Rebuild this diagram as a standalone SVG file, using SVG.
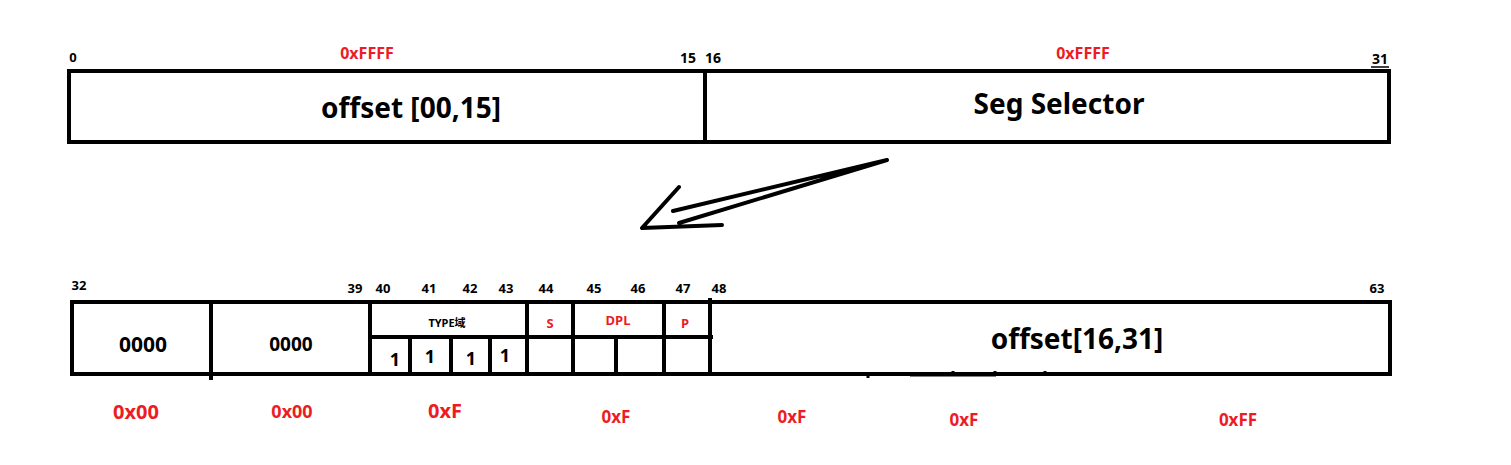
<svg xmlns="http://www.w3.org/2000/svg" width="1511" height="465" viewBox="0 0 1511 465">
<style>
text{font-family:"Noto Sans","Noto Sans CJK SC","Liberation Sans",sans-serif;font-weight:bold;text-anchor:middle;fill:#000}
.red{fill:#ed1c24}
.box{fill:none;stroke:#000;stroke-width:4}
.ln{stroke:#000;stroke-width:4;fill:none}
.num{font-size:13px}
.big{font-size:28px}
</style>
<rect width="1511" height="465" fill="#fff"/>
<g id="top-register">
<rect class="box" x="69" y="71" width="1320" height="71"/>
<line class="ln" x1="705" y1="71" x2="705" y2="142"/>
<text class="num" x="73" y="62" font-size="12">0</text>
<text class="num" x="688" y="63" style="font-size:14px">15</text>
<text class="num" x="713" y="63" style="font-size:14px">16</text>
<text class="num" x="1380" y="64" style="font-size:14px">31</text>
<line stroke="#000" stroke-width="1.5" x1="1371" y1="67" x2="1389" y2="67"/>
<text class="red" x="367" y="59" font-size="16">0xFFFF</text>
<text class="red" x="1083" y="59" font-size="16">0xFFFF</text>
<text class="big" x="411" y="118">offset [00,15]</text>
<text font-size="28" x="1059" y="114">Seg Selector</text>
</g>
<g id="connectors">
<path class="ln" d="M887 160 L673 211 M887 160 L679 223 M679 187 L642 228 L722 225" stroke-width="4" stroke-linecap="round" stroke-linejoin="round"/>
</g>
<g id="bottom-register">
<rect class="box" x="72" y="302" width="1318" height="72"/>
<line class="ln" x1="211" y1="302" x2="211" y2="380"/>
<line class="ln" x1="370" y1="302" x2="370" y2="374"/>
<line class="ln" x1="527" y1="302" x2="527" y2="376"/>
<line class="ln" x1="573" y1="302" x2="573" y2="374"/>
<line class="ln" x1="664" y1="302" x2="664" y2="374"/>
<line class="ln" x1="710" y1="298" x2="710" y2="376"/>
<line class="ln" x1="370" y1="337" x2="713" y2="337"/>
<line class="ln" x1="410" y1="337" x2="410" y2="374"/>
<line class="ln" x1="451" y1="337" x2="451" y2="374"/>
<line class="ln" x1="490" y1="337" x2="490" y2="374"/>
<line class="ln" x1="616" y1="337" x2="616" y2="374"/>
<g stroke="#000" stroke-width="3">
<line x1="868" y1="372" x2="868" y2="378"/>
<line x1="910" y1="375" x2="996" y2="375"/>
<line x1="953" y1="371" x2="953" y2="375"/>
<line x1="995" y1="371" x2="995" y2="375"/>
<line x1="1045" y1="371" x2="1045" y2="375"/>
</g>
<text class="num" x="79" y="290">32</text>
<text class="num" x="355" y="293">39</text>
<text class="num" x="383" y="293">40</text>
<text class="num" x="429" y="293">41</text>
<text class="num" x="470" y="293">42</text>
<text class="num" x="506" y="293">43</text>
<text class="num" x="546" y="293">44</text>
<text class="num" x="594" y="293">45</text>
<text class="num" x="638" y="293">46</text>
<text class="num" x="683" y="293">47</text>
<text class="num" x="719" y="293">48</text>
<text class="num" x="1377" y="293">63</text>
<text x="143" y="352" font-size="21">0000</text>
<text x="291" y="351" font-size="19">0000</text>
<text x="447" y="327" font-size="11">TYPE域</text>
<text class="red" x="550" y="328" font-size="13">S</text>
<text class="red" x="618" y="325" font-size="13">DPL</text>
<text class="red" x="685" y="328" font-size="13">P</text>
<text x="395" y="366" font-size="18">1</text>
<text x="430" y="363" font-size="18">1</text>
<text x="471" y="365" font-size="18">1</text>
<text x="505" y="362" font-size="18">1</text>
<text x="1077" y="349" font-size="28">offset[16,31]</text>
</g>
<g id="values">
<text class="red" x="136" y="419" font-size="20">0x00</text>
<text class="red" x="292" y="418" font-size="18">0x00</text>
<text class="red" x="445" y="418" font-size="20">0xF</text>
<text class="red" x="616" y="423" font-size="17">0xF</text>
<text class="red" x="792" y="423" font-size="17">0xF</text>
<text class="red" x="964" y="426" font-size="17">0xF</text>
<text class="red" x="1238" y="426" font-size="17">0xFF</text>
</g>
</svg>
